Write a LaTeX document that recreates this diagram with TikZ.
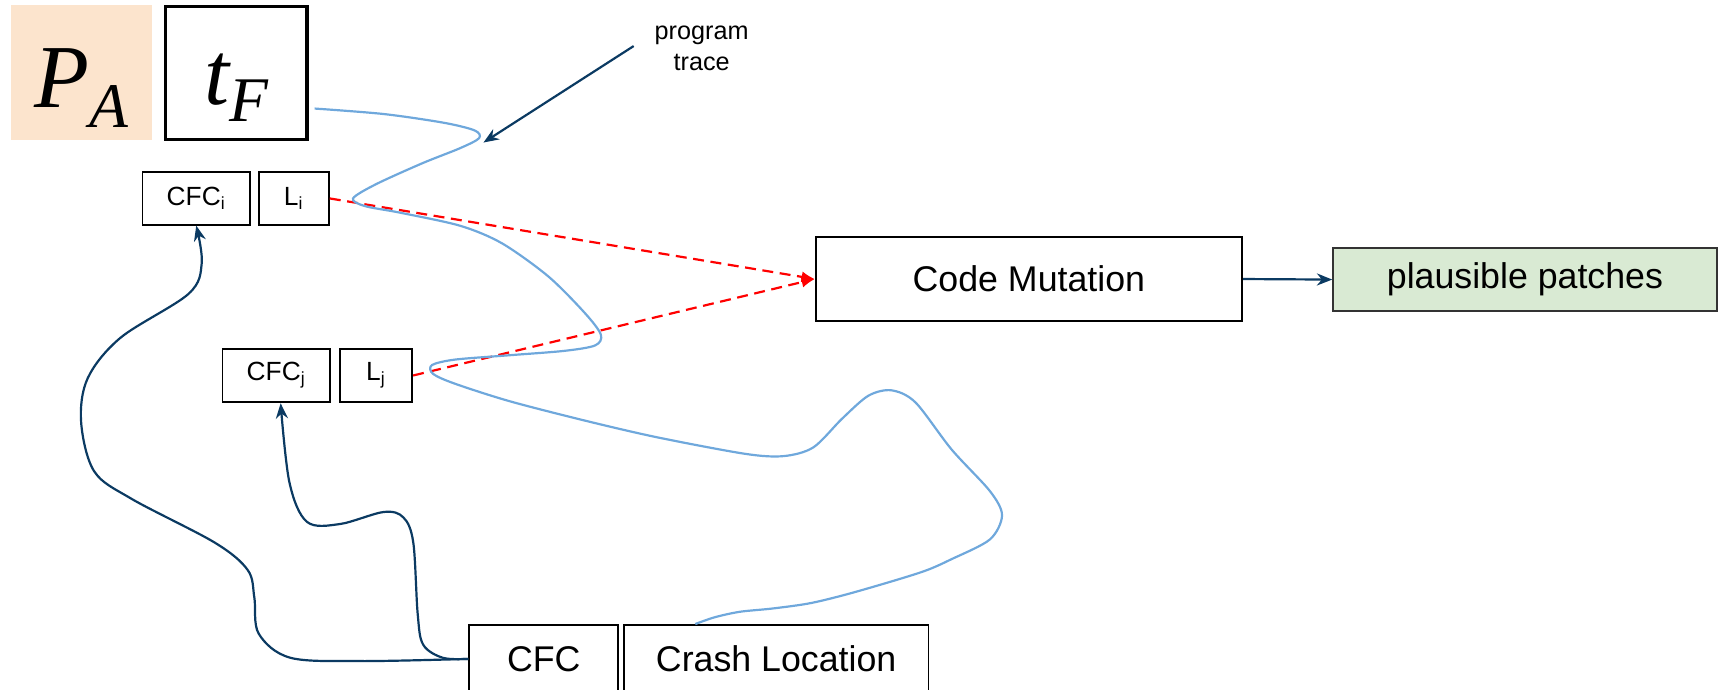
\documentclass[tikz,border=0pt]{standalone}
\usepackage{fontspec}
\setmainfont{Liberation Sans}
\newfontfamily\serifit{Liberation Serif}
\usetikzlibrary{arrows.meta,calc}
\definecolor{peach}{HTML}{FCE4CD}
\definecolor{navy}{HTML}{0B3A62}
\definecolor{traceblue}{HTML}{6FA8DC}
\definecolor{pgreen}{HTML}{D9EAD3}
\definecolor{dgray}{HTML}{333333}
\newcommand{\bigsym}[3]{\raisebox{-6.75pt}[\height][\depth]{\serifit\itshape\fontsize{41}{48}\selectfont #1\raisebox{#3}{\fontsize{29}{32}\selectfont #2}}}
\begin{document}
\begin{tikzpicture}[x=0.5pt,y=-0.5pt,
  box/.style={draw=black,line width=0.8pt,inner sep=0pt,rectangle},
  smallbox/.style={box,font=\fontsize{12}{14}\selectfont},
  bigbox/.style={box,font=\fontsize{16.3}{19}\selectfont},
  mathbox/.style={rectangle,inner sep=0pt},
  navyarrow/.style={draw=navy,line width=1pt,-{Stealth[length=7pt,width=5.5pt]}},
  redarrow/.style={draw=red,line width=1pt,dash pattern=on 5pt off 3pt,-{Latex[length=6pt,width=5pt]}},
  trace/.style={draw=traceblue,line width=1pt}]
\clip (0,0) rectangle (1568,629);
% top boxes
\node[mathbox,fill=peach,minimum width=64.5pt,minimum height=61.5pt] (PA) at (74.5,66.5) {\bigsym{P}{A}{-9pt}};
\node[mathbox,draw=black,line width=1.5pt,minimum width=64.5pt,minimum height=60.5pt] (tF) at (215.5,66.5) {\bigsym{t}{F}{-7.5pt}};
% small boxes
\node[smallbox,minimum width=49pt,minimum height=24pt] (CFCi) at (179,181) {CFC\textsubscript{i}};
\node[smallbox,minimum width=32pt,minimum height=24pt] (Li) at (268,181) {L\textsubscript{i}};
\node[smallbox,minimum width=49pt,minimum height=24.5pt] (CFCj) at (252,342.5) {CFC\textsubscript{j}};
\node[smallbox,minimum width=33pt,minimum height=24.5pt] (Lj) at (343,342.5) {L\textsubscript{j}};
% main boxes
\node[bigbox,minimum width=194.5pt,minimum height=38.5pt] (CM) at (938.5,254.5) {Code Mutation};
\node[bigbox,draw=dgray,fill=pgreen,minimum width=175pt,minimum height=29pt] (PP) at (1391,255) {plausible patches};
\node[bigbox,minimum width=68pt,minimum height=31pt] (CFC) at (496,601) {CFC};
\node[bigbox,minimum width=139pt,minimum height=31pt] (CL) at (708,601) {Crash Location};
% label
\node[align=center,font=\fontsize{11.5}{14}\selectfont,inner sep=0pt] (lbl) at (640,44) {program\\trace};
\coordinate (ta) at (578,42);
\coordinate (tb) at (441,130);
\draw[navyarrow] (ta) -- (tb);
% arrows
\draw[navyarrow] (CM.east) -- (PP.west);
\draw[redarrow] (Li.east) -- (CM.west);
\draw[redarrow] (Lj.east) -- (CM.west);
\draw[navyarrow] plot[smooth,tension=0.55] coordinates {(CFC.west) (330,603) (265,600) (236,578) (232,545) (226,520) (196,495) (120,455) (86,430) (74,385) (80,345) (110,308) (172,268) (184,240) (CFCi.south)};
\draw[navyarrow] plot[smooth,tension=0.55] coordinates {(CFC.west) (404,600) (386,588) (381,560) (377,495) (368,472) (350,467) (310,478) (280,476) (264,440) ([xshift=2pt]CFCj.south)};
% program trace
\coordinate (ts) at (287,99);
\draw[trace] plot[smooth,tension=0.5] coordinates {(ts) (350,104) (405,112) (433,119) (437,126) (420,135) (385,149) (343,168) (322,181) (333,188) (365,194) (420,206) (458,222) (500,252) (533,285) (548,305) (543,315) (515,320) (465,324) (415,328) (394,333) (395,341) (415,350) (465,366) (535,384) (600,399) (680,414) (715,416) (742,408) (768,382) (792,361) (813,356) (835,367) (868,410) (903,448) (914,470) (903,492) (868,510) (840,522) (780,540) (740,550) (705,555) (675,558) (652,563) ($(CL.north west)+(66,0)$)};
\end{tikzpicture}
\end{document}
